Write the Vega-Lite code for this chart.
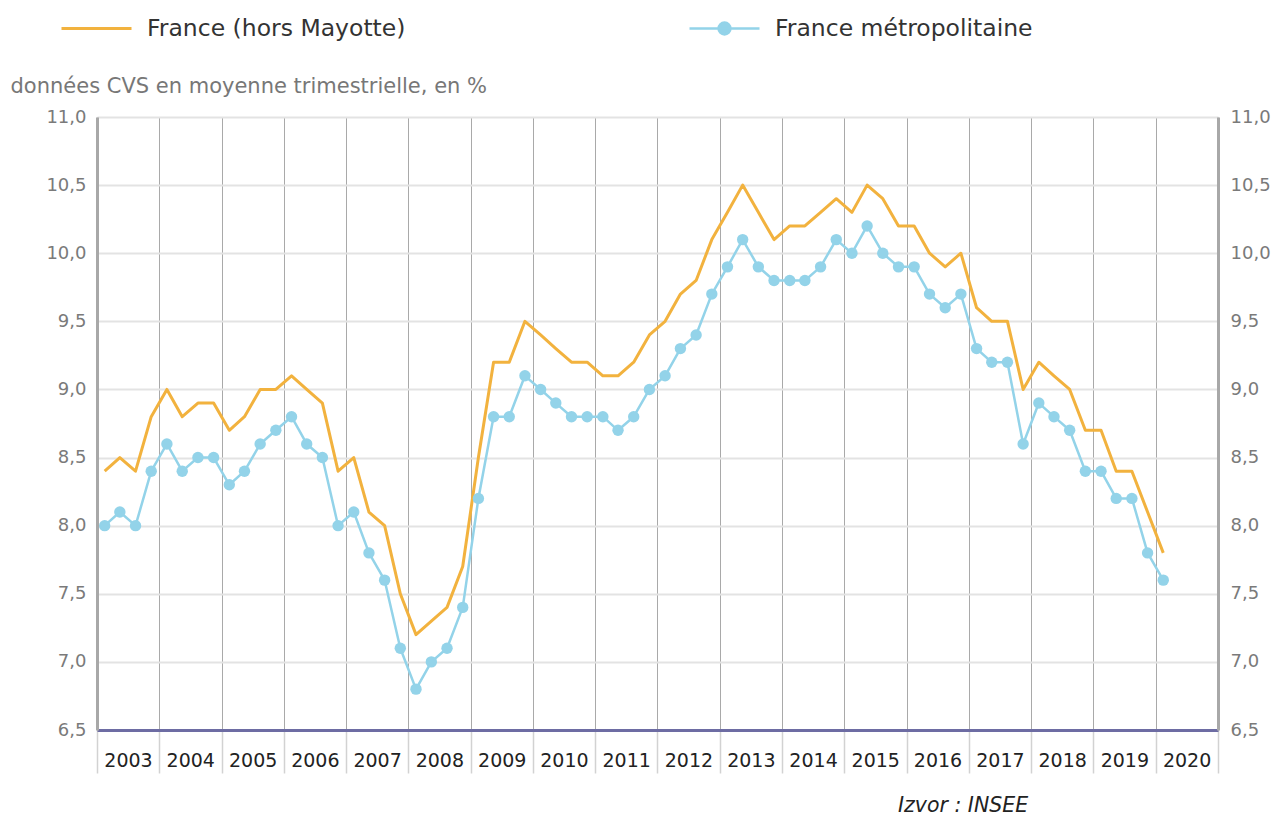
{
  "$schema": "https://vega.github.io/schema/vega-lite/v6.json",
  "width": 1121,
  "height": 613,
  "autosize": {"type": "none"},
  "padding": {"left": 97, "top": 117, "right": 57, "bottom": 89},
  "background": "white",
  "config": {"font": "DejaVu Sans", "view": {"stroke": null}},
  "title": {"text": "Izvor : INSEE", "orient": "bottom", "anchor": "start", "frame": "group", "dx": 801, "offset": 22, "fontSize": 20.5, "fontStyle": "italic", "fontWeight": "normal", "color": "#222222", "font": "DejaVu Sans"},
  "data": {"values": [
    {"date": "2003-02-15", "serie": "France (hors Mayotte)", "taux": 8.4},
    {"date": "2003-05-15", "serie": "France (hors Mayotte)", "taux": 8.5},
    {"date": "2003-08-15", "serie": "France (hors Mayotte)", "taux": 8.4},
    {"date": "2003-11-15", "serie": "France (hors Mayotte)", "taux": 8.8},
    {"date": "2004-02-15", "serie": "France (hors Mayotte)", "taux": 9.0},
    {"date": "2004-05-15", "serie": "France (hors Mayotte)", "taux": 8.8},
    {"date": "2004-08-15", "serie": "France (hors Mayotte)", "taux": 8.9},
    {"date": "2004-11-15", "serie": "France (hors Mayotte)", "taux": 8.9},
    {"date": "2005-02-15", "serie": "France (hors Mayotte)", "taux": 8.7},
    {"date": "2005-05-15", "serie": "France (hors Mayotte)", "taux": 8.8},
    {"date": "2005-08-15", "serie": "France (hors Mayotte)", "taux": 9.0},
    {"date": "2005-11-15", "serie": "France (hors Mayotte)", "taux": 9.0},
    {"date": "2006-02-15", "serie": "France (hors Mayotte)", "taux": 9.1},
    {"date": "2006-05-15", "serie": "France (hors Mayotte)", "taux": 9.0},
    {"date": "2006-08-15", "serie": "France (hors Mayotte)", "taux": 8.9},
    {"date": "2006-11-15", "serie": "France (hors Mayotte)", "taux": 8.4},
    {"date": "2007-02-15", "serie": "France (hors Mayotte)", "taux": 8.5},
    {"date": "2007-05-15", "serie": "France (hors Mayotte)", "taux": 8.1},
    {"date": "2007-08-15", "serie": "France (hors Mayotte)", "taux": 8.0},
    {"date": "2007-11-15", "serie": "France (hors Mayotte)", "taux": 7.5},
    {"date": "2008-02-15", "serie": "France (hors Mayotte)", "taux": 7.2},
    {"date": "2008-05-15", "serie": "France (hors Mayotte)", "taux": 7.3},
    {"date": "2008-08-15", "serie": "France (hors Mayotte)", "taux": 7.4},
    {"date": "2008-11-15", "serie": "France (hors Mayotte)", "taux": 7.7},
    {"date": "2009-02-15", "serie": "France (hors Mayotte)", "taux": 8.5},
    {"date": "2009-05-15", "serie": "France (hors Mayotte)", "taux": 9.2},
    {"date": "2009-08-15", "serie": "France (hors Mayotte)", "taux": 9.2},
    {"date": "2009-11-15", "serie": "France (hors Mayotte)", "taux": 9.5},
    {"date": "2010-02-15", "serie": "France (hors Mayotte)", "taux": 9.4},
    {"date": "2010-05-15", "serie": "France (hors Mayotte)", "taux": 9.3},
    {"date": "2010-08-15", "serie": "France (hors Mayotte)", "taux": 9.2},
    {"date": "2010-11-15", "serie": "France (hors Mayotte)", "taux": 9.2},
    {"date": "2011-02-15", "serie": "France (hors Mayotte)", "taux": 9.1},
    {"date": "2011-05-15", "serie": "France (hors Mayotte)", "taux": 9.1},
    {"date": "2011-08-15", "serie": "France (hors Mayotte)", "taux": 9.2},
    {"date": "2011-11-15", "serie": "France (hors Mayotte)", "taux": 9.4},
    {"date": "2012-02-15", "serie": "France (hors Mayotte)", "taux": 9.5},
    {"date": "2012-05-15", "serie": "France (hors Mayotte)", "taux": 9.7},
    {"date": "2012-08-15", "serie": "France (hors Mayotte)", "taux": 9.8},
    {"date": "2012-11-15", "serie": "France (hors Mayotte)", "taux": 10.1},
    {"date": "2013-02-15", "serie": "France (hors Mayotte)", "taux": 10.3},
    {"date": "2013-05-15", "serie": "France (hors Mayotte)", "taux": 10.5},
    {"date": "2013-08-15", "serie": "France (hors Mayotte)", "taux": 10.3},
    {"date": "2013-11-15", "serie": "France (hors Mayotte)", "taux": 10.1},
    {"date": "2014-02-15", "serie": "France (hors Mayotte)", "taux": 10.2},
    {"date": "2014-05-15", "serie": "France (hors Mayotte)", "taux": 10.2},
    {"date": "2014-08-15", "serie": "France (hors Mayotte)", "taux": 10.3},
    {"date": "2014-11-15", "serie": "France (hors Mayotte)", "taux": 10.4},
    {"date": "2015-02-15", "serie": "France (hors Mayotte)", "taux": 10.3},
    {"date": "2015-05-15", "serie": "France (hors Mayotte)", "taux": 10.5},
    {"date": "2015-08-15", "serie": "France (hors Mayotte)", "taux": 10.4},
    {"date": "2015-11-15", "serie": "France (hors Mayotte)", "taux": 10.2},
    {"date": "2016-02-15", "serie": "France (hors Mayotte)", "taux": 10.2},
    {"date": "2016-05-15", "serie": "France (hors Mayotte)", "taux": 10.0},
    {"date": "2016-08-15", "serie": "France (hors Mayotte)", "taux": 9.9},
    {"date": "2016-11-15", "serie": "France (hors Mayotte)", "taux": 10.0},
    {"date": "2017-02-15", "serie": "France (hors Mayotte)", "taux": 9.6},
    {"date": "2017-05-15", "serie": "France (hors Mayotte)", "taux": 9.5},
    {"date": "2017-08-15", "serie": "France (hors Mayotte)", "taux": 9.5},
    {"date": "2017-11-15", "serie": "France (hors Mayotte)", "taux": 9.0},
    {"date": "2018-02-15", "serie": "France (hors Mayotte)", "taux": 9.2},
    {"date": "2018-05-15", "serie": "France (hors Mayotte)", "taux": 9.1},
    {"date": "2018-08-15", "serie": "France (hors Mayotte)", "taux": 9.0},
    {"date": "2018-11-15", "serie": "France (hors Mayotte)", "taux": 8.7},
    {"date": "2019-02-15", "serie": "France (hors Mayotte)", "taux": 8.7},
    {"date": "2019-05-15", "serie": "France (hors Mayotte)", "taux": 8.4},
    {"date": "2019-08-15", "serie": "France (hors Mayotte)", "taux": 8.4},
    {"date": "2019-11-15", "serie": "France (hors Mayotte)", "taux": 8.1},
    {"date": "2020-02-15", "serie": "France (hors Mayotte)", "taux": 7.8},
    {"date": "2003-02-15", "serie": "France métropolitaine", "taux": 8.0},
    {"date": "2003-05-15", "serie": "France métropolitaine", "taux": 8.1},
    {"date": "2003-08-15", "serie": "France métropolitaine", "taux": 8.0},
    {"date": "2003-11-15", "serie": "France métropolitaine", "taux": 8.4},
    {"date": "2004-02-15", "serie": "France métropolitaine", "taux": 8.6},
    {"date": "2004-05-15", "serie": "France métropolitaine", "taux": 8.4},
    {"date": "2004-08-15", "serie": "France métropolitaine", "taux": 8.5},
    {"date": "2004-11-15", "serie": "France métropolitaine", "taux": 8.5},
    {"date": "2005-02-15", "serie": "France métropolitaine", "taux": 8.3},
    {"date": "2005-05-15", "serie": "France métropolitaine", "taux": 8.4},
    {"date": "2005-08-15", "serie": "France métropolitaine", "taux": 8.6},
    {"date": "2005-11-15", "serie": "France métropolitaine", "taux": 8.7},
    {"date": "2006-02-15", "serie": "France métropolitaine", "taux": 8.8},
    {"date": "2006-05-15", "serie": "France métropolitaine", "taux": 8.6},
    {"date": "2006-08-15", "serie": "France métropolitaine", "taux": 8.5},
    {"date": "2006-11-15", "serie": "France métropolitaine", "taux": 8.0},
    {"date": "2007-02-15", "serie": "France métropolitaine", "taux": 8.1},
    {"date": "2007-05-15", "serie": "France métropolitaine", "taux": 7.8},
    {"date": "2007-08-15", "serie": "France métropolitaine", "taux": 7.6},
    {"date": "2007-11-15", "serie": "France métropolitaine", "taux": 7.1},
    {"date": "2008-02-15", "serie": "France métropolitaine", "taux": 6.8},
    {"date": "2008-05-15", "serie": "France métropolitaine", "taux": 7.0},
    {"date": "2008-08-15", "serie": "France métropolitaine", "taux": 7.1},
    {"date": "2008-11-15", "serie": "France métropolitaine", "taux": 7.4},
    {"date": "2009-02-15", "serie": "France métropolitaine", "taux": 8.2},
    {"date": "2009-05-15", "serie": "France métropolitaine", "taux": 8.8},
    {"date": "2009-08-15", "serie": "France métropolitaine", "taux": 8.8},
    {"date": "2009-11-15", "serie": "France métropolitaine", "taux": 9.1},
    {"date": "2010-02-15", "serie": "France métropolitaine", "taux": 9.0},
    {"date": "2010-05-15", "serie": "France métropolitaine", "taux": 8.9},
    {"date": "2010-08-15", "serie": "France métropolitaine", "taux": 8.8},
    {"date": "2010-11-15", "serie": "France métropolitaine", "taux": 8.8},
    {"date": "2011-02-15", "serie": "France métropolitaine", "taux": 8.8},
    {"date": "2011-05-15", "serie": "France métropolitaine", "taux": 8.7},
    {"date": "2011-08-15", "serie": "France métropolitaine", "taux": 8.8},
    {"date": "2011-11-15", "serie": "France métropolitaine", "taux": 9.0},
    {"date": "2012-02-15", "serie": "France métropolitaine", "taux": 9.1},
    {"date": "2012-05-15", "serie": "France métropolitaine", "taux": 9.3},
    {"date": "2012-08-15", "serie": "France métropolitaine", "taux": 9.4},
    {"date": "2012-11-15", "serie": "France métropolitaine", "taux": 9.7},
    {"date": "2013-02-15", "serie": "France métropolitaine", "taux": 9.9},
    {"date": "2013-05-15", "serie": "France métropolitaine", "taux": 10.1},
    {"date": "2013-08-15", "serie": "France métropolitaine", "taux": 9.9},
    {"date": "2013-11-15", "serie": "France métropolitaine", "taux": 9.8},
    {"date": "2014-02-15", "serie": "France métropolitaine", "taux": 9.8},
    {"date": "2014-05-15", "serie": "France métropolitaine", "taux": 9.8},
    {"date": "2014-08-15", "serie": "France métropolitaine", "taux": 9.9},
    {"date": "2014-11-15", "serie": "France métropolitaine", "taux": 10.1},
    {"date": "2015-02-15", "serie": "France métropolitaine", "taux": 10.0},
    {"date": "2015-05-15", "serie": "France métropolitaine", "taux": 10.2},
    {"date": "2015-08-15", "serie": "France métropolitaine", "taux": 10.0},
    {"date": "2015-11-15", "serie": "France métropolitaine", "taux": 9.9},
    {"date": "2016-02-15", "serie": "France métropolitaine", "taux": 9.9},
    {"date": "2016-05-15", "serie": "France métropolitaine", "taux": 9.7},
    {"date": "2016-08-15", "serie": "France métropolitaine", "taux": 9.6},
    {"date": "2016-11-15", "serie": "France métropolitaine", "taux": 9.7},
    {"date": "2017-02-15", "serie": "France métropolitaine", "taux": 9.3},
    {"date": "2017-05-15", "serie": "France métropolitaine", "taux": 9.2},
    {"date": "2017-08-15", "serie": "France métropolitaine", "taux": 9.2},
    {"date": "2017-11-15", "serie": "France métropolitaine", "taux": 8.6},
    {"date": "2018-02-15", "serie": "France métropolitaine", "taux": 8.9},
    {"date": "2018-05-15", "serie": "France métropolitaine", "taux": 8.8},
    {"date": "2018-08-15", "serie": "France métropolitaine", "taux": 8.7},
    {"date": "2018-11-15", "serie": "France métropolitaine", "taux": 8.4},
    {"date": "2019-02-15", "serie": "France métropolitaine", "taux": 8.4},
    {"date": "2019-05-15", "serie": "France métropolitaine", "taux": 8.2},
    {"date": "2019-08-15", "serie": "France métropolitaine", "taux": 8.2},
    {"date": "2019-11-15", "serie": "France métropolitaine", "taux": 7.8},
    {"date": "2020-02-15", "serie": "France métropolitaine", "taux": 7.6}
  ]},
  "layer": [
    {
      "mark": {"type": "line", "strokeJoin": "round"},
      "encoding": {
        "x": {"field": "date", "type": "temporal",
          "scale": {"type": "utc", "domain": [{"year": 2003, "month": 1, "date": 1, "utc": true}, {"year": 2021, "month": 1, "date": 1, "utc": true}]},
          "axis": {
            "values": [
              {"year": 2003, "month": 1, "date": 1, "utc": true}, {"year": 2004, "month": 1, "date": 1, "utc": true},
              {"year": 2005, "month": 1, "date": 1, "utc": true}, {"year": 2006, "month": 1, "date": 1, "utc": true},
              {"year": 2007, "month": 1, "date": 1, "utc": true}, {"year": 2008, "month": 1, "date": 1, "utc": true},
              {"year": 2009, "month": 1, "date": 1, "utc": true}, {"year": 2010, "month": 1, "date": 1, "utc": true},
              {"year": 2011, "month": 1, "date": 1, "utc": true}, {"year": 2012, "month": 1, "date": 1, "utc": true},
              {"year": 2013, "month": 1, "date": 1, "utc": true}, {"year": 2014, "month": 1, "date": 1, "utc": true},
              {"year": 2015, "month": 1, "date": 1, "utc": true}, {"year": 2016, "month": 1, "date": 1, "utc": true},
              {"year": 2017, "month": 1, "date": 1, "utc": true}, {"year": 2018, "month": 1, "date": 1, "utc": true},
              {"year": 2019, "month": 1, "date": 1, "utc": true}, {"year": 2020, "month": 1, "date": 1, "utc": true},
              {"year": 2021, "month": 1, "date": 1, "utc": true}
            ],
            "labelExpr": "utcyear(datum.value) > 2020 ? '' : utcFormat(datum.value, '%Y')",
            "title": null,
            "grid": true, "gridColor": "#a9a9a9", "gridWidth": 1,
            "ticks": true, "tickSize": 43, "tickColor": "#d2d2d2", "tickWidth": 1.5,
            "domain": true, "domainColor": "#6d6ca3", "domainWidth": 3,
            "labelOffset": 31, "labelPadding": -22, "labelFontSize": 19, "labelColor": "#222222",
            "labelFlush": false, "labelOverlap": false, "labelBound": false
          }
        },
        "y": {"field": "taux", "type": "quantitative",
          "scale": {"domain": [6.5, 11], "nice": false, "zero": false},
          "axis": {
            "orient": "left",
            "values": [6.5, 7, 7.5, 8, 8.5, 9, 9.5, 10, 10.5, 11],
            "labelExpr": "replace(format(datum.value, '.1f'), '.', ',')",
            "grid": true, "gridColor": "#e3e3e3", "gridWidth": 2,
            "ticks": false, "tickSize": 0,
            "domain": true, "domainColor": "#a8a8a8", "domainWidth": 3,
            "labelFontSize": 18, "labelColor": "#7a7a7a", "labelPadding": 11,
            "title": "données CVS en moyenne trimestrielle, en %",
            "titleAngle": 0, "titleX": -87, "titleY": -31, "titleAlign": "left", "titleBaseline": "middle",
            "titleFontSize": 21, "titleFontWeight": "normal", "titleColor": "#777777"
          }
        },
        "color": {"field": "serie", "type": "nominal",
          "scale": {"domain": ["France (hors Mayotte)", "France métropolitaine"], "range": ["#f2b23e", "#93d3e9"]},
          "legend": {
            "orient": "none", "legendX": -37, "legendY": -125, "direction": "horizontal", "title": null,
            "symbolSize": 4900, "symbolStrokeWidth": 3, "labelFontSize": 23.5, "labelColor": "#333333",
            "labelOffset": 14, "columnPadding": 278, "labelLimit": 500,
            "encode": {"symbols": {"update": {
              "shape": {"signal": "datum.value === 'France métropolitaine' ? 'M-1,0H1M-0.17,0A0.17,0.17,0,1,0,0.17,0A0.17,0.17,0,1,0,-0.17,0Z' : 'M-1,0H1'"},
              "fill": {"signal": "datum.value === 'France métropolitaine' ? '#93d3e9' : 'transparent'"},
              "opacity": {"value": 1}
            }}}
          }
        },
        "strokeWidth": {"field": "serie", "type": "nominal",
          "scale": {"domain": ["France (hors Mayotte)", "France métropolitaine"], "range": [3, 2.5]},
          "legend": null}
      }
    },
    {
      "transform": [{"filter": "datum.serie === 'France métropolitaine'"}],
      "mark": {"type": "point", "filled": true, "size": 130, "opacity": 1},
      "encoding": {
        "x": {"field": "date", "type": "temporal"},
        "y": {"field": "taux", "type": "quantitative",
          "axis": {
            "orient": "right",
            "values": [6.5, 7, 7.5, 8, 8.5, 9, 9.5, 10, 10.5, 11],
            "labelExpr": "replace(format(datum.value, '.1f'), '.', ',')",
            "grid": false, "ticks": false, "tickSize": 0,
            "domain": true, "domainColor": "#a8a8a8", "domainWidth": 3,
            "labelFontSize": 18, "labelColor": "#7a7a7a", "labelPadding": 12,
            "title": null
          }
        },
        "color": {"field": "serie", "type": "nominal"}
      }
    }
  ],
  "resolve": {"axis": {"y": "independent"}}
}
